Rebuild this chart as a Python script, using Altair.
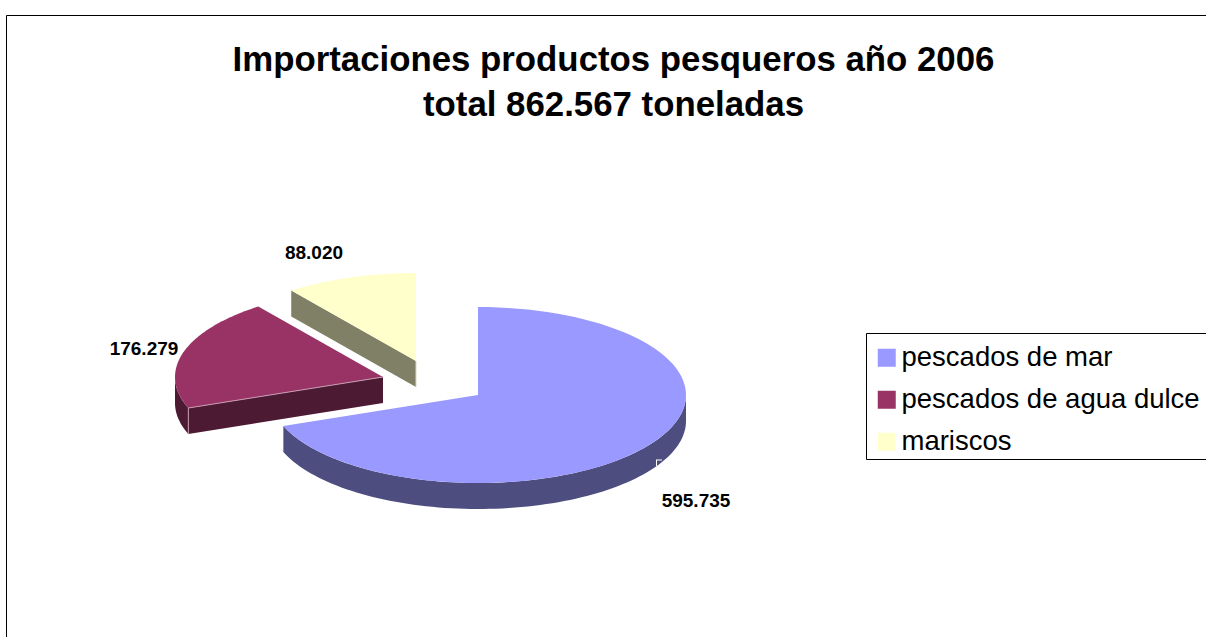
import math
import altair as alt
import pandas as pd

# Imported tonnes per product group
categories = ["pescados de mar", "pescados de agua dulce", "mariscos"]
tonnes = [595735, 176279, 88020]
top_colors = ["#9999FF", "#993366", "#FFFFCC"]
wall_colors = ["#4D4D80", "#4D1A33", "#808066"]

title_lines = ["Importaciones productos pesqueros año 2006", "total 862.567 toneladas"]

# Tilted pie geometry, in canvas pixels
W, H = 1206, 637
RX, RY, DEPTH = 208, 88, 26
centres = [(478, 395), (383, 377), (416, 361)]
label_pos = [(696, 501), (144, 349), (314, 253)]


def rim(c, deg, drop=0):
    a = math.radians(deg)
    return [c[0] + RX * math.sin(a), c[1] - RY * math.cos(a) + drop]


def sweep(a, b, n=90):
    return [a + (b - a) * i / n for i in range(n + 1)]


def polygon(points, **props):
    ring = [list(p) for p in points] + [list(points[0])]
    return {"type": "Feature", "properties": props,
            "geometry": {"type": "Polygon", "coordinates": [ring]}}


def segment(points, **props):
    return {"type": "Feature", "properties": props,
            "geometry": {"type": "LineString", "coordinates": [list(p) for p in points]}}


total = sum(tonnes)
bounds = [0]
for t in tonnes:
    bounds.append(bounds[-1] + 360 * t / total)

tops, walls = [], []
for i, name in enumerate(categories):
    c = centres[i]
    arc = [rim(c, d) for d in sweep(bounds[i], bounds[i + 1])]
    tops.append(polygon([c] + arc, series=name))

# Outer rim of the sea-fish slice, visible along the front of the ellipse
front = sweep(90, bounds[1])
walls.append(polygon([rim(centres[0], d) for d in front]
                     + [rim(centres[0], d, DEPTH) for d in reversed(front)], color=wall_colors[0]))

# Freshwater slice: the cut face looking forward and the short rim on the left
c = centres[1]
walls.append(polygon([c, rim(c, bounds[1]), rim(c, bounds[1], DEPTH), [c[0], c[1] + DEPTH]], color=wall_colors[1]))
left = sweep(bounds[1], 270, 20)
walls.append(polygon([rim(c, d) for d in left]
                     + [rim(c, d, DEPTH) for d in reversed(left)], color=wall_colors[1]))

# Shellfish slice: the cut face looking down and to the left
c = centres[2]
walls.append(polygon([c, rim(c, bounds[2]), rim(c, bounds[2], DEPTH), [c[0], c[1] + DEPTH]], color=wall_colors[2]))

# Pale highlights on the slice edges
edges = [
    segment([centres[1], rim(centres[1], bounds[1])], color="#C79AB0"),
    segment([rim(centres[1], bounds[1]), rim(centres[1], bounds[1], DEPTH)], color="#C79AB0"),
    segment([centres[2], [centres[2][0], centres[2][1] + DEPTH]], color="#D8D8C8"),
]

projection = dict(type="identity", scale=1, translate=[0, 0])

one_row = pd.DataFrame({"k": [0]})

frame = alt.Chart(one_row).mark_rect(
    fill="white", stroke="black", strokeWidth=1
).encode(x=alt.value(6.5), x2=alt.value(W + 20), y=alt.value(15.5), y2=alt.value(H + 20))

# Box behind the legend; it runs past the right-hand edge of the page
legend_box = alt.Chart(one_row).mark_rect(
    fill="white", stroke="black", strokeWidth=1
).encode(x=alt.value(866.5), x2=alt.value(W + 20), y=alt.value(333.5), y2=alt.value(459.5))

title_df = pd.DataFrame({"line": title_lines, "py": [61, 106]})
title = alt.Chart(title_df).mark_text(
    font="Liberation Sans", fontWeight="bold", fontSize=34.8, color="black", align="center", baseline="middle"
).encode(x=alt.value(613.5), y=alt.Y("py:Q", scale=None), text="line:N")

labels_df = pd.DataFrame({
    "label": [f"{t:,}".replace(",", ".") for t in tonnes],
    "px": [p[0] for p in label_pos],
    "py": [p[1] for p in label_pos],
})
value_labels = alt.Chart(labels_df).mark_text(
    font="Liberation Sans", fontWeight="bold", fontSize=19, color="black", align="center", baseline="middle"
).encode(x=alt.X("px:Q", scale=None), y=alt.Y("py:Q", scale=None), text="label:N")

wall_layer = alt.Chart(alt.Data(values=walls)).mark_geoshape(strokeWidth=0).encode(
    fill=alt.Fill("properties.color:N", scale=None)
).project(**projection)

top_layer = alt.Chart(alt.Data(values=tops)).mark_geoshape(strokeWidth=0).encode(
    fill=alt.Fill(
        "properties.series:N",
        scale=alt.Scale(domain=categories, range=top_colors),
        legend=alt.Legend(
            title=None, orient="none", legendX=873, legendY=344, padding=0,
            symbolType="square", symbolSize=324,
            symbolStrokeWidth=0, labelFont="Liberation Sans", labelFontSize=27.5, labelColor="black",
            labelOffset=1, rowPadding=13, labelLimit=500,
        ),
    )
).project(**projection)

edge_layer = alt.Chart(alt.Data(values=edges)).mark_geoshape(filled=False, strokeWidth=1).encode(
    stroke=alt.Stroke("properties.color:N", scale=None)
).project(**projection)

# Leftover leader stub at the foot of the sea-fish rim
stub = alt.Chart(one_row).mark_rule(color="white", strokeWidth=1)
stub_h = stub.encode(x=alt.value(656), x2=alt.value(662), y=alt.value(460))
stub_v = stub.encode(x=alt.value(656.5), y=alt.value(460), y2=alt.value(466))

chart = alt.layer(
    frame, legend_box, title, value_labels, wall_layer, top_layer, edge_layer, stub_h, stub_v
).resolve_scale(fill="independent", stroke="independent").properties(
    width=W, height=H, padding=0, autosize=alt.AutoSizeParams(type="none"), background="white"
).configure_view(stroke=None)

chart.save("out.html", embed_options={"renderer": "svg", "actions": False})
